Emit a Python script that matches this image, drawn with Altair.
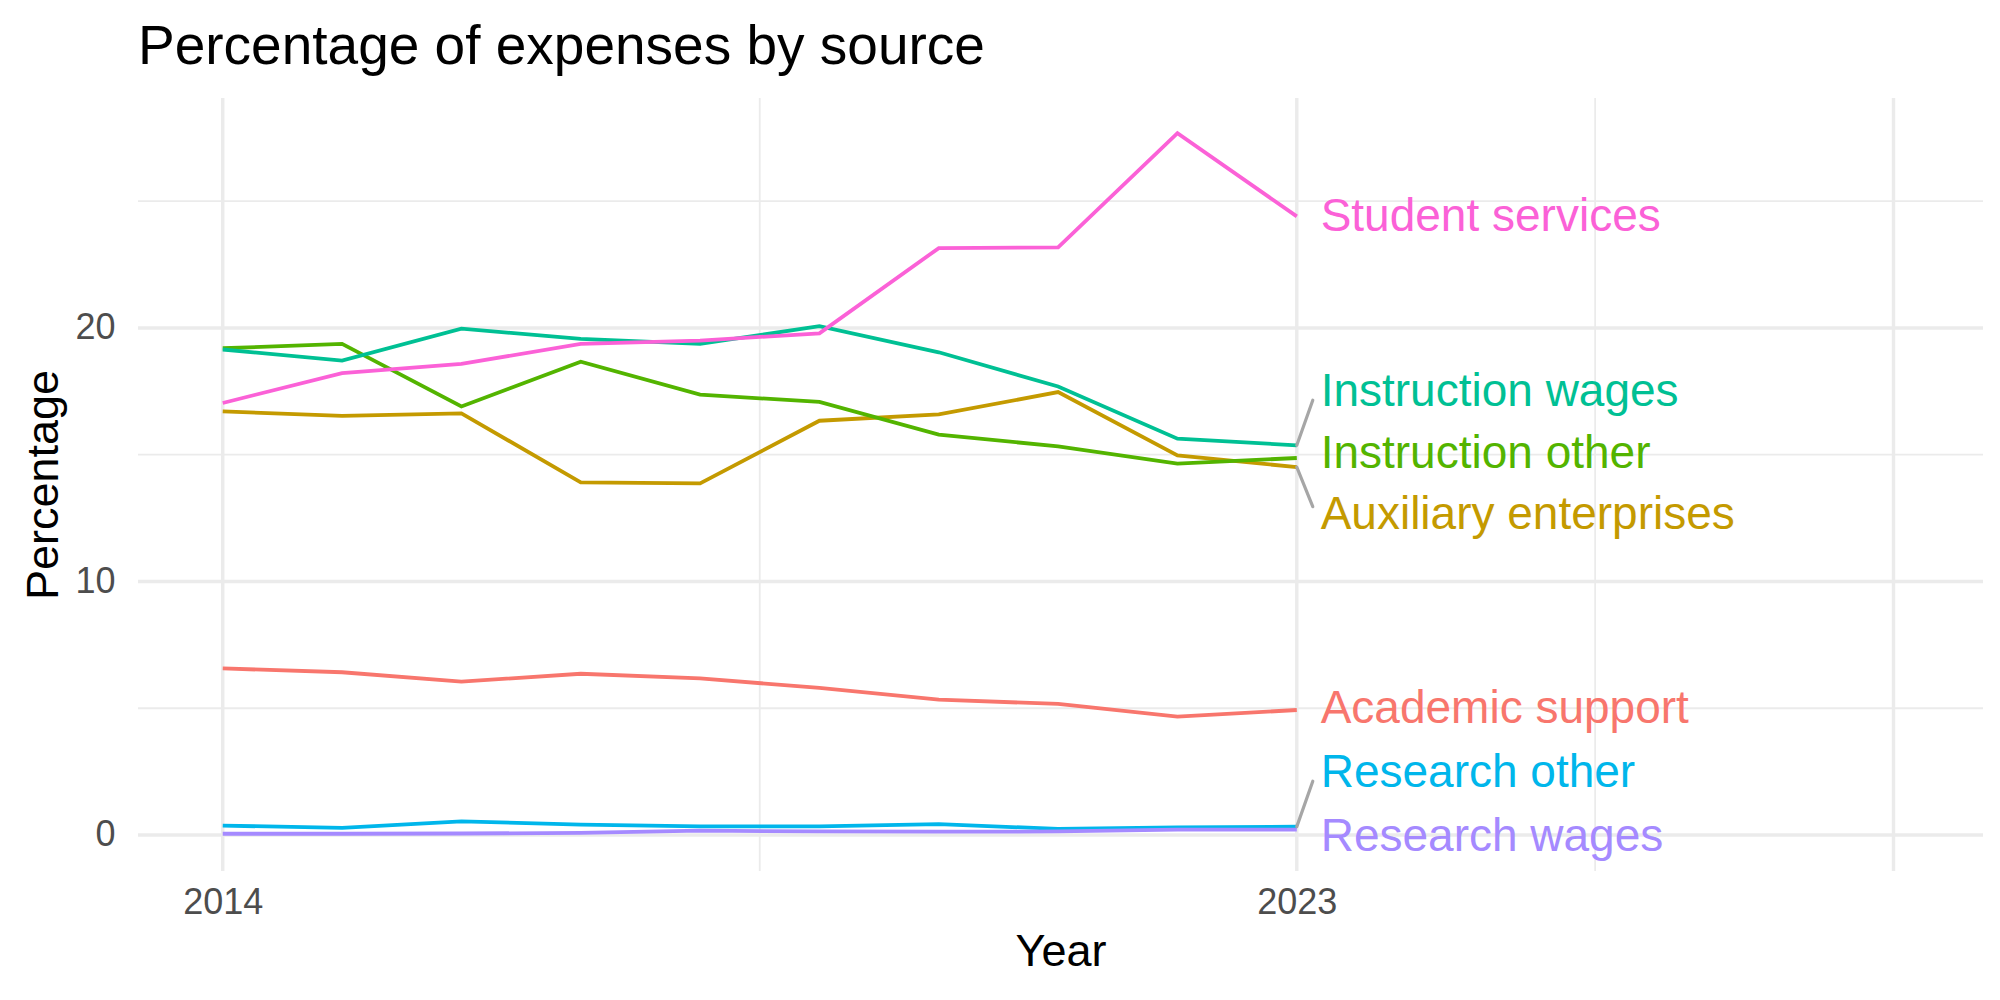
import altair as alt
import pandas as pd

# ---------------- data ----------------
years = [2014, 2015, 2016, 2017, 2018, 2019, 2020, 2021, 2022, 2023]
series_names = [
    "Academic support",
    "Auxiliary enterprises",
    "Instruction other",
    "Instruction wages",
    "Research other",
    "Research wages",
    "Student services",
]
academic_support = [6.57, 6.42, 6.05, 6.36, 6.18, 5.80, 5.34, 5.17, 4.67, 4.93]
auxiliary_enterprises = [16.71, 16.53, 16.63, 13.91, 13.87, 16.34, 16.59, 17.47, 14.97, 14.51]
instruction_other = [19.20, 19.37, 16.90, 18.67, 17.37, 17.08, 15.79, 15.33, 14.65, 14.87]
instruction_wages = [19.15, 18.71, 19.97, 19.57, 19.37, 20.07, 19.04, 17.69, 15.63, 15.37]
research_other = [0.37, 0.28, 0.54, 0.41, 0.34, 0.34, 0.43, 0.24, 0.30, 0.33]
research_wages = [0.05, 0.05, 0.06, 0.08, 0.17, 0.14, 0.13, 0.14, 0.21, 0.21]
student_services = [17.04, 18.22, 18.58, 19.37, 19.50, 19.79, 23.15, 23.18, 27.68, 24.40]

series_values = [
    academic_support,
    auxiliary_enterprises,
    instruction_other,
    instruction_wages,
    research_other,
    research_wages,
    student_services,
]
colors = ["#F8766D", "#C49A00", "#53B400", "#00C094", "#00B6EB", "#A58AFF", "#FB61D7"]

# repelled label positions (as placed in the reference)
label_year = 2023.2
label_y = [4.97, 12.62, 15.03, 17.48, 2.45, -0.07, 24.38]
has_segment = [False, True, False, True, True, False, False]
segment_end_year = 2023.134

x_ticks = [2014, 2023]
y_ticks = [0, 10, 20]
grid_x_major = [2014, 2023, 2028]
grid_x_minor = [2018.5, 2025.5]
grid_y_major = [0, 10, 20]
grid_y_minor = [5, 15, 25]

# ---------------- tables ----------------
rows = []
for name, vals in zip(series_names, series_values):
    for yr, v in zip(years, vals):
        rows.append({"series": name, "year": yr, "value": v})
df = pd.DataFrame(rows)

lab = pd.DataFrame({"series": series_names, "year": [label_year] * len(series_names), "value": label_y})

seg_rows = []
for name, vals, ly, flag in zip(series_names, series_values, label_y, has_segment):
    if flag:
        last = vals[-1]
        direction = 1 if ly > last else -1
        seg_rows.append({"series": name, "year": years[-1], "value": last,
                         "year2": segment_end_year, "value2": ly - 0.33 * direction})
seg = pd.DataFrame(seg_rows)

gx_major = pd.DataFrame({"year": grid_x_major})
gx_minor = pd.DataFrame({"year": grid_x_minor})
gy_major = pd.DataFrame({"value": grid_y_major})
gy_minor = pd.DataFrame({"value": grid_y_minor})

FONT = "Liberation Sans"
GRID = "#EBEBEB"

xscale = alt.Scale(domain=[2013.29, 2028.75], nice=False, zero=False)
yscale = alt.Scale(domain=[-1.42, 29.07], nice=False, zero=False)
xaxis = alt.Axis(values=x_ticks, format="d", grid=False, domain=False, ticks=False,
                 labelFontSize=36, labelColor="#4D4D4D", labelFont=FONT, labelPadding=14,
                 title="Year", titleFontSize=45, titleFont=FONT, titleFontWeight="normal",
                 titleColor="black", titlePadding=9)
yaxis = alt.Axis(values=y_ticks, format="d", grid=False, domain=False, ticks=False,
                 labelFontSize=36, labelColor="#4D4D4D", labelFont=FONT, labelPadding=23,
                 title="Percentage", titleFontSize=45, titleFont=FONT, titleFontWeight="normal",
                 titleColor="black", titlePadding=8)

X = alt.X("year:Q", scale=xscale, axis=xaxis)
Y = alt.Y("value:Q", scale=yscale, axis=yaxis)
color = alt.Color("series:N", scale=alt.Scale(domain=series_names, range=colors), legend=None)

g1 = alt.Chart(gx_minor).mark_rule(color=GRID, strokeWidth=1.8).encode(x=X)
g2 = alt.Chart(gy_minor).mark_rule(color=GRID, strokeWidth=1.8).encode(y=Y)
g3 = alt.Chart(gx_major).mark_rule(color=GRID, strokeWidth=3.4).encode(x=X)
g4 = alt.Chart(gy_major).mark_rule(color=GRID, strokeWidth=3.4).encode(y=Y)

lines = alt.Chart(df).mark_line(strokeWidth=3.8).encode(x=X, y=Y, color=color, detail="series:N")

segs = alt.Chart(seg).mark_rule(color="#A6A6A6", strokeWidth=3.2, strokeCap="round").encode(
    x=X, y=Y, x2="year2:Q", y2="value2:Q")

labels = alt.Chart(lab).mark_text(align="left", baseline="middle", fontSize=46, font=FONT).encode(
    x=X, y=Y, text="series:N", color=color)

chart = alt.layer(g1, g2, g3, g4, lines, segs, labels).properties(
    width=1845,
    height=773,
    title=alt.TitleParams("Percentage of expenses by source", anchor="start", frame="group",
                          fontSize=55, font=FONT, fontWeight="normal", color="black", offset=20),
    autosize=alt.AutoSizeParams(type="none"),
    padding={"left": 138, "top": 98, "right": 17, "bottom": 129},
).configure(background="white", view=alt.ViewConfig(stroke=None, strokeWidth=0))

chart.save("out.html", embed_options={"renderer": "svg", "actions": False})
